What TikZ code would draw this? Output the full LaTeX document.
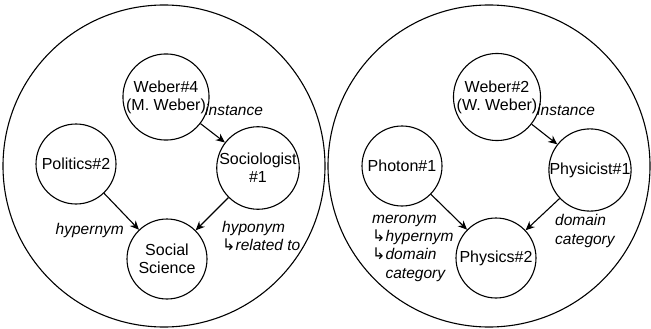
\documentclass[tikz,border=0pt]{standalone}
\usepackage{fontspec}
\setmainfont{Liberation Sans}
\newfontfamily\arrowfont{DejaVu Sans}
\usetikzlibrary{arrows.meta}
\newcommand{\hookarr}{{\arrowfont\fontsize{16}{18}\selectfont ↳}}
\begin{document}
\begin{tikzpicture}[x=1pt,y=-1pt,
  big/.style={draw, line width=1.1pt, circle, minimum size=322pt, inner sep=0pt},
  concept/.style={draw, line width=1.1pt, circle, minimum size=80pt, inner sep=0pt, align=center, font=\fontsize{16}{18}\selectfont},
  lbl/.style={inner sep=0pt, align=left, font=\fontsize{15.5}{18.3}\selectfont\itshape},
  arr/.style={line width=1.1pt, -{Stealth[length=9pt,width=8pt]}}]
\useasboundingbox (0,0) rectangle (651,329);
% big circles
\node[big] (L) at (164,166) {};
\node[big] (R) at (489,166) {};
% left group
\node[concept] (w4) at (166,97) {Weber\#4\\(M. Weber)};
\node[concept] (soc) at (258,168) {Sociologist\\\#1};
\node[concept] (pol) at (76,164) {Politics\#2};
\node[concept] (ss) at (167,259) {Social\\Science};
\draw[arr] (w4) -- (soc);
\draw[arr] (pol) -- (ss);
\draw[arr] (soc) -- (ss);
\node[lbl, anchor=west] (l1) at (205,110) {instance};
\node[lbl, anchor=east] (l2) at (124,230) {hypernym};
\node[lbl, anchor=west] (l3) at (222,236) {hyponym\\\hookarr related to};
% right group
\node[concept] (w2) at (497,97) {Weber\#2\\(W. Weber)};
\node[concept] (phy) at (590,170) {Physicist\#1};
\node[concept] (pho) at (402,166) {Photon\#1};
\node[concept] (ps) at (496,258) {Physics\#2};
\draw[arr] (w2) -- (phy);
\draw[arr] (pho) -- (ps);
\draw[arr] (phy) -- (ps);
\node[lbl, anchor=west] (r1) at (537,110) {instance};
\node[lbl, anchor=west] (r2) at (555,231) {domain\\category};
\node[lbl, anchor=west] (r3) at (372,248) {meronym\\\hookarr hypernym\\\hookarr domain\\\phantom{\hookarr}category};
\end{tikzpicture}
\end{document}
